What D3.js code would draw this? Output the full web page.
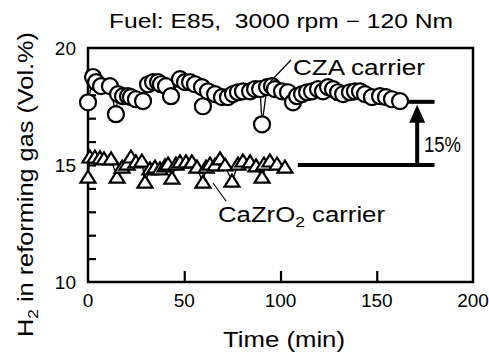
<!DOCTYPE html>
<html><head><meta charset="utf-8">
<script src="https://cdn.jsdelivr.net/npm/d3@7"></script>
<style>body{margin:0;background:#fff}svg{display:block}text{font-family:"Liberation Sans",Arial,sans-serif;fill:#000}</style>
</head><body>
<script>
// ---- data ----
const czaTime = [0,2.6,4.2,6.8,11.4,14.5,15.6,18.2,20.8,22.3,24.9,28.6,31.2,33.8,36.4,37.9,40.5,43.1,47.8,50.4,53,55.6,59.2,59.7,62.3,66,69.6,72.7,75.3,77.9,80.5,84.2,86.8,89.4,90.4,93,95.6,97.1,100.8,103.9,106.5,108.6,111.2,113.8,116.4,119.5,122.1,124.7,127.3,129.9,132.5,136.1,138.7,141.3,143.9,147.5,151.7,154.8,157.9,162.1];
const czaH2 = [17.68,18.76,18.54,18.37,18.37,17.17,18.03,17.94,17.94,17.9,17.81,17.73,18.45,18.54,18.54,18.45,18.37,17.94,18.67,18.54,18.54,18.45,18.33,17.51,18.15,18.03,17.9,17.9,18.03,18.11,18.15,18.15,18.24,18.24,16.74,18.33,18.37,18.24,18.15,18.11,17.68,17.94,18.03,18.11,18.15,18.24,18.15,18.33,18.24,18.11,18.03,18.11,18.15,18.15,18.03,17.9,17.94,17.9,17.81,17.73];
const cazTime = [0,1,3.6,6.2,8.3,12,15.1,17.7,20.3,22.3,24.9,28,29.6,32.2,34.8,37.4,40,41.6,43.6,45.7,47.8,50.9,54,56.6,59.7,61.3,63.4,66,68.6,71.2,74.8,77.9,80.5,84.2,87.3,90.4,91.4,94.5,98.2,102.3];
const cazH2 = [14.46,15.32,15.32,15.28,15.24,15.24,14.46,14.89,15.02,15.32,15.11,15.15,14.25,14.81,14.89,14.81,14.94,15.02,14.42,15.02,15.11,15.11,15.11,14.89,14.25,14.89,15.02,14.98,15.24,14.98,14.29,15.02,15.15,15.11,14.94,14.46,15.02,15.15,15.02,14.89];
const xTicks = [0,50,100,150,200];
const yTickLabels = [10,15,20];
const yMinorTicks = [11,12,13,14,15,16,17,18,19];
const titleText = "Fuel: E85,  3000 rpm \u2212 120 Nm";
const xLabel = "Time (min)";
const seriesLabels = ["CZA carrier","CaZrO","2"," carrier"];
const bracketLow = 15, bracketHigh = 17.7, bracketStart = 109, bracketEnd = 180, bracketShortStart = 166, arrowT = 171;
const diffLabel = "15%";

const W = 489, H = 352;
const svg = d3.select("body").append("svg").attr("width", W).attr("height", H);
const x = d3.scaleLinear().domain([0,200]).range([88,473]);
const y = d3.scaleLinear().domain([10,20]).range([282,48]);

// frame
svg.append("rect").attr("x", x(0)).attr("y", y(20)).attr("width", x(200)-x(0)).attr("height", y(10)-y(20))
  .attr("fill","none").attr("stroke","#000").attr("stroke-width",2.5);

// ticks
const xAxis = d3.axisBottom(x).tickValues(xTicks.slice(1,-1)).tickSize(-11).tickFormat("");
const gx = svg.append("g").attr("transform",`translate(0,${y(10)})`).call(xAxis);
gx.select(".domain").remove();
gx.selectAll("line").attr("stroke","#000").attr("stroke-width",2.2);
const yAxis = d3.axisLeft(y).tickValues(yMinorTicks).tickSize(-8).tickFormat("");
const gy = svg.append("g").attr("transform",`translate(${x(0)},0)`).call(yAxis);
gy.select(".domain").remove();
gy.selectAll("line").attr("stroke","#000").attr("stroke-width",2.2);

// tick labels
svg.selectAll(".xl").data(xTicks).enter().append("text")
  .attr("x", d=>x(d)).attr("y", 307).attr("text-anchor","middle").attr("font-size",19).text(d=>d);
svg.selectAll(".yl").data(yTickLabels).enter().append("text")
  .attr("x", 76).attr("y", d=>y(d)+7).attr("text-anchor","end").attr("font-size",19).text(d=>d);

// title & axis labels
svg.append("text").attr("x",109).attr("y",28).attr("font-size",20)
  .attr("textLength",344).attr("lengthAdjust","spacingAndGlyphs").style("white-space","pre").text(titleText);
svg.append("text").attr("x",223).attr("y",347).attr("font-size",22)
  .attr("textLength",122).attr("lengthAdjust","spacingAndGlyphs").text(xLabel);
const yl = svg.append("text").attr("transform","translate(33,337) rotate(-90)").attr("font-size",22)
  .attr("textLength",305).attr("lengthAdjust","spacingAndGlyphs");
yl.append("tspan").text("H");
yl.append("tspan").attr("font-size",15).attr("dy",5).text("2");
yl.append("tspan").attr("dy",-5).text(" in reforming gas (Vol.%)");

// series lines
const line = d3.line().x(d=>x(d[0])).y(d=>y(d[1]));
const cza = czaTime.map((t,i)=>[t,czaH2[i]]);
const caz = cazTime.map((t,i)=>[t,cazH2[i]]);
svg.append("path").datum(caz).attr("d",line).attr("fill","none").attr("stroke","#000").attr("stroke-width",1.3);
svg.append("path").datum(cza).attr("d",line).attr("fill","none").attr("stroke","#000").attr("stroke-width",1.3);

// markers
svg.selectAll(".tri").data(caz).enter().append("path")
  .attr("d","M0,-7L7.5,5L-7.5,5Z").attr("transform",d=>`translate(${x(d[0])},${y(d[1])})`)
  .attr("fill","#fff").attr("stroke","#000").attr("stroke-width",2.2).attr("stroke-linejoin","miter");
svg.selectAll(".cir").data(cza).enter().append("circle")
  .attr("cx",d=>x(d[0])).attr("cy",d=>y(d[1])).attr("r",8)
  .attr("fill","#fff").attr("stroke","#000").attr("stroke-width",2.2);

// series labels
svg.append("line").attr("x1",270).attr("y1",82).attr("x2",291).attr("y2",60).attr("stroke","#000").attr("stroke-width",1.2);
svg.append("text").attr("x",293).attr("y",75).attr("font-size",22).attr("textLength",132).attr("lengthAdjust","spacingAndGlyphs").text(seriesLabels[0]);
svg.append("line").attr("x1",213).attr("y1",183).attr("x2",226).attr("y2",201).attr("stroke","#000").attr("stroke-width",1.2);
const cl = svg.append("text").attr("x",218).attr("y",222).attr("font-size",22)
  .attr("textLength",167).attr("lengthAdjust","spacingAndGlyphs");
cl.append("tspan").text(seriesLabels[1]);
cl.append("tspan").attr("font-size",15).attr("dy",5).text(seriesLabels[2]);
cl.append("tspan").attr("dy",-5).text(seriesLabels[3]);

// bracket annotation
svg.append("line").attr("x1",x(bracketStart)).attr("x2",x(bracketEnd)).attr("y1",y(bracketLow)).attr("y2",y(bracketLow)).attr("stroke","#000").attr("stroke-width",4);
svg.append("line").attr("x1",x(bracketShortStart)).attr("x2",x(bracketEnd)).attr("y1",y(bracketHigh)).attr("y2",y(bracketHigh)).attr("stroke","#000").attr("stroke-width",4);
const ax = x(arrowT), ayTop = y(bracketHigh)+3;
svg.append("line").attr("x1",ax).attr("x2",ax).attr("y1",y(bracketLow)).attr("y2",ayTop+16).attr("stroke","#000").attr("stroke-width",4);
svg.append("path").attr("d",`M${ax},${ayTop}L${ax+8},${ayTop+18}L${ax-8},${ayTop+18}Z`).attr("fill","#000");
svg.append("text").attr("x",424).attr("y",152).attr("font-size",22).attr("textLength",37).attr("lengthAdjust","spacingAndGlyphs").text(diffLabel);
</script>
</body></html>
